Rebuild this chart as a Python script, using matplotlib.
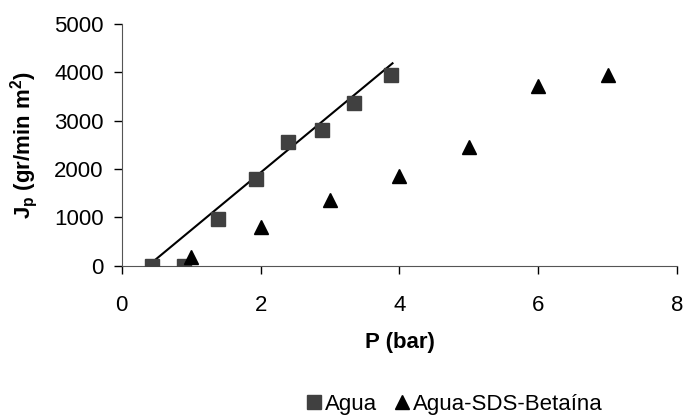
import matplotlib
matplotlib.use('Agg')
import matplotlib.pyplot as plt

plt.rcParams['font.family'] = ['Liberation Sans', 'DejaVu Sans']
plt.rcParams['mathtext.fontset'] = 'custom'
plt.rcParams['mathtext.rm'] = 'Liberation Sans'
plt.rcParams['mathtext.bf'] = 'Liberation Sans:bold'

# Agua (squares)
agua_p = [0.44, 0.89, 1.39, 1.93, 2.39, 2.89, 3.34, 3.88]
agua_j = [0, 0, 970, 1795, 2550, 2810, 3370, 3940]

# Agua-SDS-Betaina (triangles)
sds_p = [1, 2, 3, 4, 5, 6, 7]
sds_j = [180, 810, 1350, 1860, 2450, 3730, 3940]

# trend line through the water data
trend_p = [0.44, 3.9]
trend_j = [70, 4190]

fig = plt.figure(figsize=(6.84, 4.17), dpi=100)
ax = fig.add_axes([0.178, 0.363, 0.812, 0.579])

ax.plot(trend_p, trend_j, color='black', linewidth=1.5, zorder=2)
ax.plot(agua_p, agua_j, linestyle='none', marker='s', markersize=10,
        color='#404040', label='Agua', zorder=3)
ax.plot(sds_p, sds_j, linestyle='none', marker='^', markersize=10,
        color='black', label='Agua-SDS-Betaína', zorder=3)

ax.set_xlim(0, 8)
ax.set_ylim(0, 5000)
ax.set_xticks([0, 2, 4, 6, 8])
ax.set_yticks([0, 1000, 2000, 3000, 4000, 5000])
ax.tick_params(labelsize=16, direction='out', length=6, width=1, colors='black')
ax.tick_params(axis='x', pad=15)
ax.tick_params(axis='y', pad=7)
ax.spines['top'].set_visible(False)
ax.spines['right'].set_visible(False)
for s in ('left', 'bottom'):
    ax.spines[s].set_color('#555555')

ax.set_xlabel('P (bar)', fontsize=16, fontweight='bold', labelpad=12)
ax.set_ylabel(r'J$_\mathbf{p}$ (gr/min m$^\mathbf{2}$)', fontsize=16,
              fontweight='bold', labelpad=10)

fig.legend(loc='center', bbox_to_anchor=(0.662, 0.03), ncol=2, frameon=False,
           fontsize=16, handletextpad=0.0, columnspacing=0.6, handlelength=1,
           markerscale=1.0, borderaxespad=0)

plt.savefig('out.png', dpi=100)
